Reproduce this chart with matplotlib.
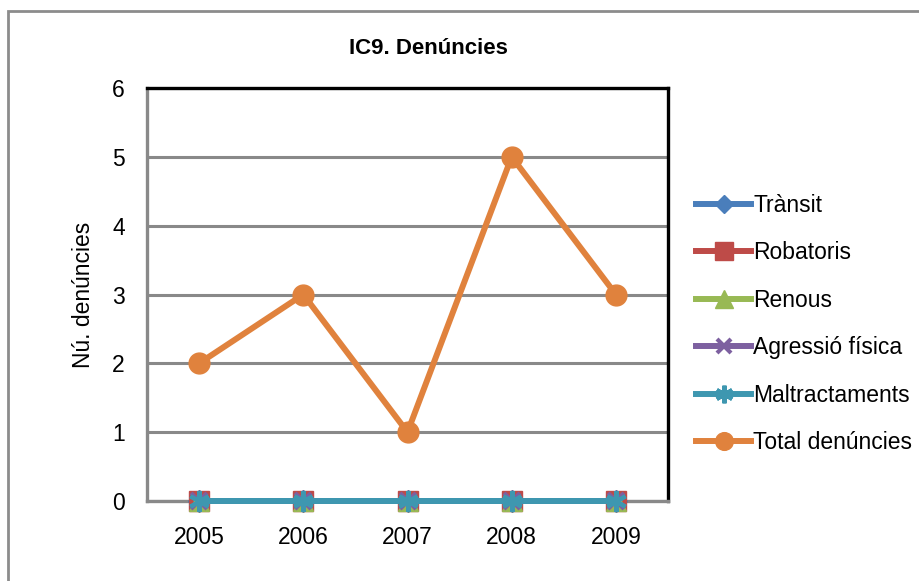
import matplotlib
matplotlib.use('Agg')
from matplotlib import pyplot as plt
from matplotlib.patches import Rectangle

plt.rcParams['font.family'] = ['Liberation Sans', 'DejaVu Sans']

years = ['2005', '2006', '2007', '2008', '2009']
transit = [0, 0, 0, 0, 0]
robatoris = [0, 0, 0, 0, 0]
renous = [0, 0, 0, 0, 0]
agressio = [0, 0, 0, 0, 0]
maltractaments = [0, 0, 0, 0, 0]
total = [2, 3, 1, 5, 3]

series = [
    ('Trànsit', transit, '#4A7EBB', 'D', 11),
    ('Robatoris', robatoris, '#BE4B48', 's', 15),
    ('Renous', renous, '#98B954', '^', 15),
    ('Agressió física', agressio, '#7D60A0', 'x', 12),
    ('Maltractaments', maltractaments, '#3E97B0', (6, 2, 0), 15),
    ('Total denúncies', total, '#E0823D', 'o', 15),
]

fig = plt.figure(figsize=(9.19, 5.81), dpi=100)
fig.patches.append(Rectangle((8 / 919, -0.1), 1.2, (581 - 11) / 581 + 0.1,
                             transform=fig.transFigure, fill=False,
                             edgecolor='#8C8C8C', linewidth=2))

ax = fig.add_axes([147 / 919, 80 / 581, 521 / 919, 413 / 581])
x = list(range(len(years)))

for name, vals, col, mk, ms in series:
    mew = 3 if mk == 'x' or mk == (6, 2, 0) else 1
    ax.plot(x, vals, color=col, linewidth=4.3, marker=mk, markersize=ms,
            markeredgecolor=col, markerfacecolor=col, markeredgewidth=mew,
            label=name, clip_on=False, zorder=3)

ax.set_xlim(-0.5, 4.5)
ax.set_ylim(0, 6)
ax.set_xticks(x)
ax.set_xticklabels(years)
ax.set_yticks(range(0, 7))
ax.tick_params(length=0, labelsize=16.5)
ax.tick_params(axis='x', pad=18)
ax.tick_params(axis='y', pad=16)
ax.yaxis.grid(True, color='#898989', linewidth=2.2)
ax.set_axisbelow(True)
ax.spines['left'].set_color('#898989')
ax.spines['bottom'].set_color('#898989')
ax.spines['top'].set_color('black')
ax.spines['right'].set_color('black')
for s in ax.spines.values():
    s.set_linewidth(2.4)
ax.set_ylabel('Nú. denúncies', fontsize=16.5, labelpad=12)

fig.text(428 / 919, 533 / 581, 'IC9. Denúncies', fontsize=16,
         fontweight='bold', ha='center', va='center')

fig.legend(loc='center left', bbox_to_anchor=(685 / 919, 257 / 581),
           frameon=False, fontsize=16.5, handlelength=2.4, handletextpad=0.08,
           labelspacing=1.07, borderpad=0, markerscale=0.85)

fig.savefig('out.png', dpi=100)
